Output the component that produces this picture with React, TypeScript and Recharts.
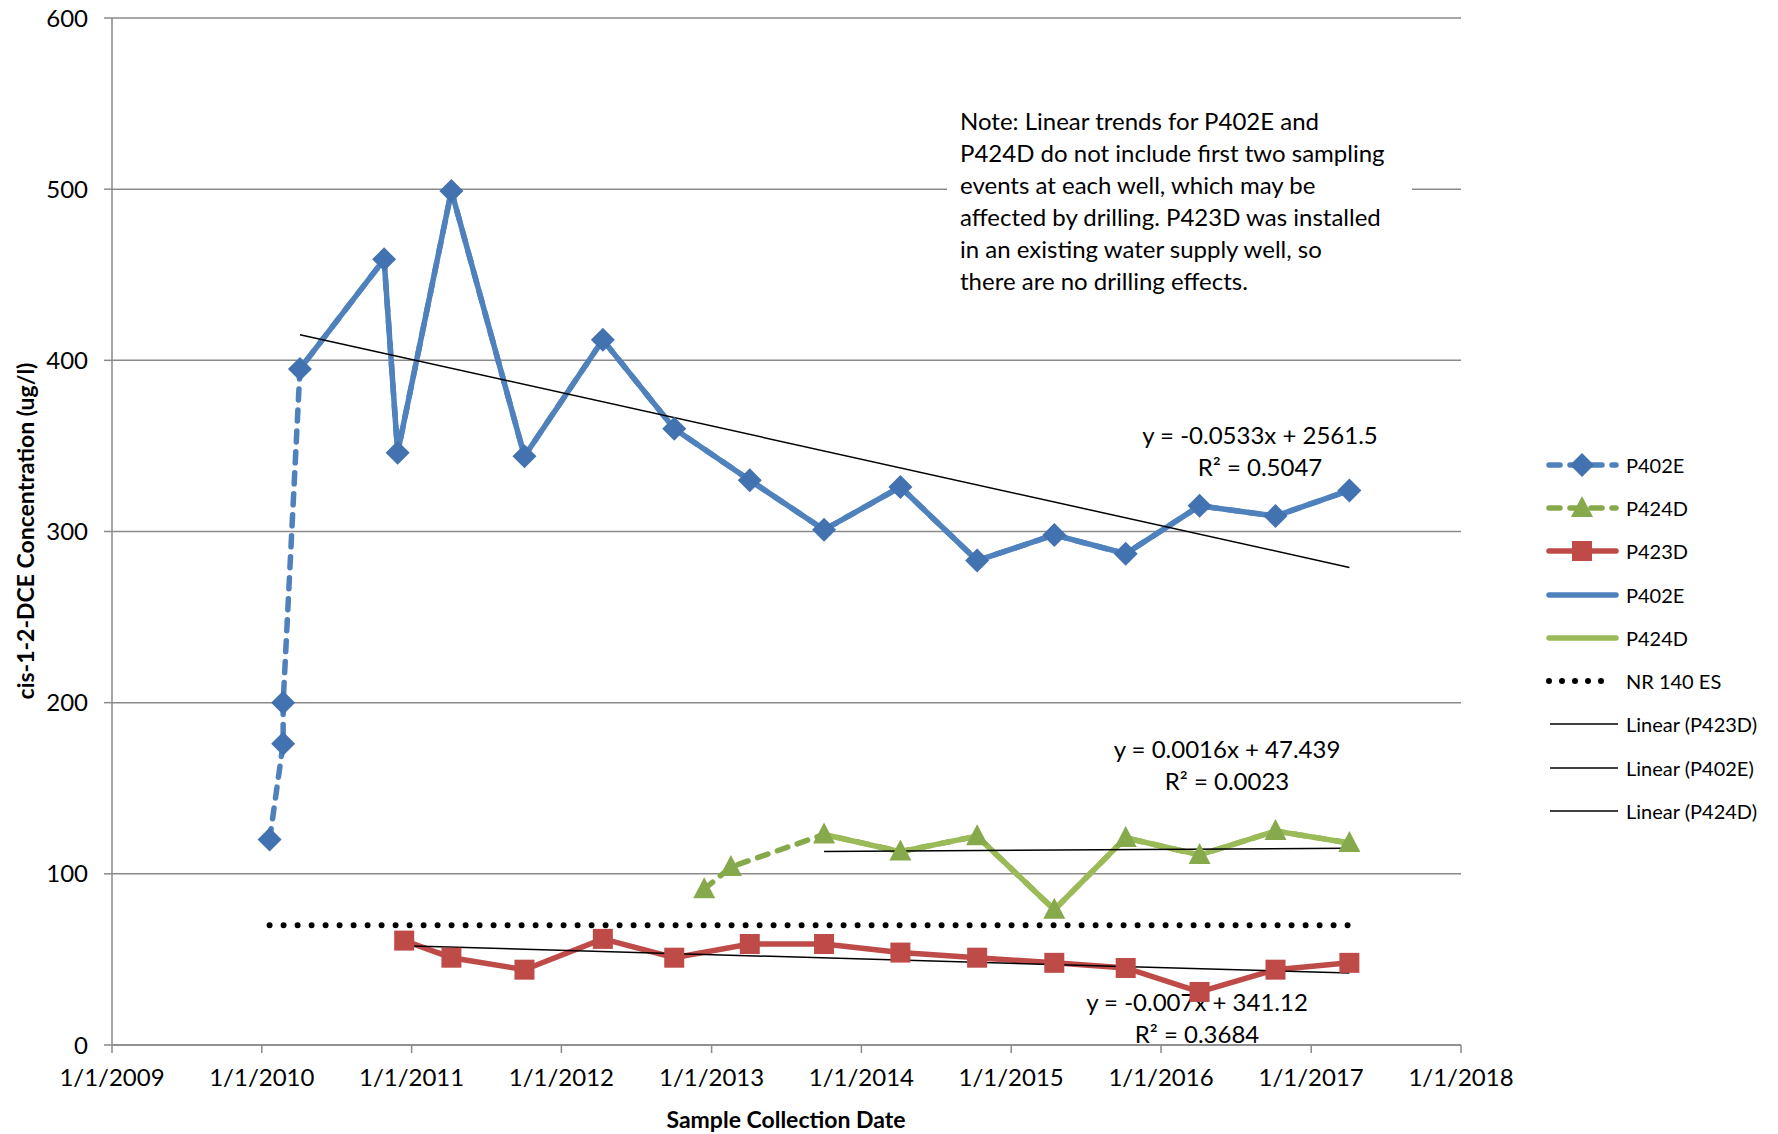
import { CartesianGrid, Customized, Legend, Line, LineChart, XAxis, YAxis } from "recharts";

const years = [2009, 2010, 2011, 2012, 2013, 2014, 2015, 2016, 2017, 2018];
const yTicks = [0, 100, 200, 300, 400, 500, 600];

const p402eDates = [
  "2010-01-20", "2010-02-22", "2010-02-22", "2010-04-04", "2010-10-26", "2010-11-28",
  "2011-04-08", "2011-10-03", "2012-04-11", "2012-10-02", "2013-04-04", "2013-10-02",
  "2014-04-06", "2014-10-10", "2015-04-16", "2015-10-07", "2016-04-04", "2016-10-06", "2017-04-04",
];
const p402eValues = [120, 176, 200, 395, 459, 346, 499, 344, 412, 360, 330, 301, 326, 283, 298, 287, 315, 309, 324];

const p424dDates = [
  "2012-12-14", "2013-02-17", "2013-10-02", "2014-04-06", "2014-10-10",
  "2015-04-16", "2015-10-07", "2016-04-04", "2016-10-06", "2017-04-04",
];
const p424dValues = [91, 104, 123, 113, 122, 79, 121, 111, 125, 118];

const p423dDates = [
  "2010-12-14", "2011-04-08", "2011-10-03", "2012-04-11", "2012-10-02", "2013-04-04", "2013-10-02",
  "2014-04-06", "2014-10-10", "2015-04-16", "2015-10-07", "2016-04-04", "2016-10-06", "2017-04-04",
];
const p423dValues = [61, 51, 44, 62, 51, 59, 59, 54, 51, 48, 45, 31, 44, 48];

const nr140Dates = ["2010-01-20", "2017-04-04"];
const nr140Values = [70, 70];

// trend line ends
const trendP402EDates = ["2010-04-04", "2017-04-04"];
const trendP402EValues = [415, 279];
const trendP424DDates = ["2013-10-02", "2017-04-04"];
const trendP424DValues = [113, 115];
const trendP423DDates = ["2010-12-14", "2017-04-04"];
const trendP423DValues = [58, 42];

const noteLines = [
  "Note: Linear trends for P402E and",
  "P424D do not include first two sampling",
  "events at each well, which may be",
  "affected by drilling. P423D was installed",
  "in an existing water supply well, so",
  "there are no drilling effects.",
];

const FONT = "Lato, 'Open Sans', sans-serif";
const BLUE = "#4F81BD";
const BLUE_MK = "#4272B0";
const GREEN = "#9BBB59";
const GREEN_DK = "#86A94B";
const RED = "#BE4B48";
const GRID = "#8A8A8A";
const LEGEND_W = 230;
const LW = 5.5;

const toMs = (d: string) => Date.parse(d + "T00:00:00Z");
const pts = (dates: string[], values: number[]) => dates.map((d, i) => ({ x: toMs(d), y: values[i] }));

const p402eAll = pts(p402eDates, p402eValues);
const p402eTrendSet = p402eAll.slice(3);
const p424dAll = pts(p424dDates, p424dValues);
const p424dTrendSet = p424dAll.slice(2);
const p423d = pts(p423dDates, p423dValues);
const nr140 = pts(nr140Dates, nr140Values);
const trendA = pts(trendP402EDates, trendP402EValues);
const trendB = pts(trendP424DDates, trendP424DValues);
const trendC = pts(trendP423DDates, trendP423DValues);

const yearTicks = years.map((y) => Date.UTC(y, 0, 1));

function Diamond({ cx, cy, fill }: { cx: number; cy: number; fill: string }) {
  const r = 12;
  return <path d={`M${cx},${cy - r}L${cx + r},${cy}L${cx},${cy + r}L${cx - r},${cy}Z`} fill={fill} />;
}
function Triangle({ cx, cy, fill }: { cx: number; cy: number; fill: string }) {
  return <path d={`M${cx},${cy - 12}L${cx + 11},${cy + 9}L${cx - 11},${cy + 9}Z`} fill={fill} />;
}
function Square({ cx, cy, fill }: { cx: number; cy: number; fill: string }) {
  return <rect x={cx - 10} y={cy - 10} width={20} height={20} fill={fill} />;
}

const legendItems = [
  { label: "P402E", kind: "dash", color: BLUE, marker: "diamond" },
  { label: "P424D", kind: "dash", color: GREEN_DK, marker: "triangle" },
  { label: "P423D", kind: "solid", color: RED, marker: "square" },
  { label: "P402E", kind: "solid", color: BLUE, marker: "" },
  { label: "P424D", kind: "solid", color: GREEN, marker: "" },
  { label: "NR 140 ES", kind: "dot", color: "#000", marker: "" },
  { label: "Linear (P423D)", kind: "thin", color: "#000", marker: "" },
  { label: "Linear (P402E)", kind: "thin", color: "#000", marker: "" },
  { label: "Linear (P424D)", kind: "thin", color: "#000", marker: "" },
];

function LegendBox() {
  return (
    <div style={{ fontFamily: FONT, fontSize: 20, color: "#000" }}>
      {legendItems.map((it, i) => (
        <div key={i} style={{ display: "flex", alignItems: "center", height: 43.3 }}>
          <svg width={80} height={24}>
            {it.kind === "dash" && (
              <line x1={3} y1={12} x2={70} y2={12} stroke={it.color} strokeWidth={LW} strokeDasharray="11 10" strokeLinecap="round" />
            )}
            {it.kind === "solid" && <line x1={3} y1={12} x2={70} y2={12} stroke={it.color} strokeWidth={LW} strokeLinecap="round" />}
            {it.kind === "dot" && (
              <line x1={3} y1={12} x2={68} y2={12} stroke="#000" strokeWidth={6} strokeDasharray="0 13" strokeLinecap="round" />
            )}
            {it.kind === "thin" && <line x1={4} y1={12} x2={72} y2={12} stroke="#000" strokeWidth={1.5} />}
            {it.marker === "diamond" && <Diamond cx={36} cy={12} fill={BLUE_MK} />}
            {it.marker === "triangle" && <Triangle cx={36} cy={12} fill={GREEN_DK} />}
            {it.marker === "square" && <Square cx={36} cy={12} fill={RED} />}
          </svg>
          <span>{it.label}</span>
        </div>
      ))}
    </div>
  );
}

function Annotations() {
  return (
    <g fontFamily={FONT} fill="#000">
      <rect x={947} y={96} width={465} height={204} fill="#fff" />
      {noteLines.map((t, i) => (
        <text key={i} x={960} y={120 + i * 32} fontSize={24} dominantBaseline="central">
          {t}
        </text>
      ))}
      <text x={1260} y={434} fontSize={24} textAnchor="middle" dominantBaseline="central">y = -0.0533x + 2561.5</text>
      <text x={1260} y={466} fontSize={24} textAnchor="middle" dominantBaseline="central">R² = 0.5047</text>
      <text x={1227} y={748} fontSize={24} textAnchor="middle" dominantBaseline="central">y = 0.0016x + 47.439</text>
      <text x={1227} y={780} fontSize={24} textAnchor="middle" dominantBaseline="central">R² = 0.0023</text>
      <text x={1197} y={1001} fontSize={24} textAnchor="middle" dominantBaseline="central">y = -0.007x + 341.12</text>
      <text x={1197} y={1033} fontSize={24} textAnchor="middle" dominantBaseline="central">R² = 0.3684</text>
      <text x={786} y={1119} fontSize={23} fontWeight="bold" textAnchor="middle" dominantBaseline="central">
        Sample Collection Date
      </text>
      <text
        x={25}
        y={531}
        fontSize={23}
        fontWeight="bold"
        textAnchor="middle"
        dominantBaseline="central"
        transform="rotate(-90 25 531)"
      >
        cis-1-2-DCE Concentration (ug/l)
      </text>
    </g>
  );
}

const tickStyle = { fontFamily: FONT, fontSize: 24, fill: "#000" };

export default function App() {
  return (
    <div style={{ position: "absolute", left: 0, top: 0, background: "#fff" }}>
      {/* the legend's width is added to the right margin by recharts, so subtract it here */}
      <LineChart width={1778} height={1134} margin={{ top: 18, right: 317 - LEGEND_W, bottom: 0, left: 0 }}>
        <CartesianGrid vertical={false} stroke={GRID} strokeWidth={1.5} />
        <XAxis
          dataKey="x"
          type="number"
          domain={[yearTicks[0], yearTicks[yearTicks.length - 1]]}
          ticks={yearTicks}
          interval={0}
          height={89}
          tickFormatter={(v: number) => `1/1/${new Date(v).getUTCFullYear()}`}
          tick={tickStyle}
          stroke={GRID}
          strokeWidth={1.5}
          tickSize={8}
          tickMargin={16}
          allowDataOverflow
        />
        <YAxis
          dataKey="y"
          type="number"
          domain={[0, 600]}
          ticks={yTicks}
          interval={0}
          width={112}
          tick={tickStyle}
          stroke={GRID}
          strokeWidth={1.5}
          tickSize={8}
          tickMargin={16}
        />
        <Line
          data={p402eAll}
          dataKey="y"
          name="P402E"
          stroke={BLUE}
          strokeWidth={LW}
          strokeDasharray="11 10"
          strokeLinecap="round"
          dot={(p: any) => <Diamond key={`a${p.index}`} cx={p.cx} cy={p.cy} fill={BLUE_MK} />}
          activeDot={false}
          isAnimationActive={false}
        />
        <Line
          data={p424dAll}
          dataKey="y"
          name="P424D"
          stroke={GREEN_DK}
          strokeWidth={LW}
          strokeDasharray="11 10"
          strokeLinecap="round"
          dot={(p: any) => <Triangle key={`b${p.index}`} cx={p.cx} cy={p.cy} fill={GREEN_DK} />}
          activeDot={false}
          isAnimationActive={false}
        />
        <Line
          data={p423d}
          dataKey="y"
          name="P423D"
          stroke={RED}
          strokeWidth={LW}
          dot={(p: any) => <Square key={`c${p.index}`} cx={p.cx} cy={p.cy} fill={RED} />}
          activeDot={false}
          isAnimationActive={false}
        />
        <Line data={p402eTrendSet} dataKey="y" name="P402E " stroke={BLUE} strokeWidth={LW} dot={false} activeDot={false} isAnimationActive={false} />
        <Line data={p424dTrendSet} dataKey="y" name="P424D " stroke={GREEN} strokeWidth={LW} dot={false} activeDot={false} isAnimationActive={false} />
        <Line
          data={nr140}
          dataKey="y"
          name="NR 140 ES"
          stroke="#000"
          strokeWidth={6}
          strokeDasharray="0 14"
          strokeLinecap="round"
          dot={false}
          activeDot={false}
          isAnimationActive={false}
        />
        <Line data={trendC} dataKey="y" name="Linear (P423D)" stroke="#000" strokeWidth={1.5} dot={false} activeDot={false} isAnimationActive={false} />
        <Line data={trendA} dataKey="y" name="Linear (P402E)" stroke="#000" strokeWidth={1.5} dot={false} activeDot={false} isAnimationActive={false} />
        <Line data={trendB} dataKey="y" name="Linear (P424D)" stroke="#000" strokeWidth={1.5} dot={false} activeDot={false} isAnimationActive={false} />
        <Customized component={Annotations} />
        <Legend
          layout="horizontal"
          verticalAlign="middle"
          align="right"
          content={() => <LegendBox />}
          wrapperStyle={{ left: 1546, top: 443, width: LEGEND_W, right: "auto", bottom: "auto" }}
        />
      </LineChart>
    </div>
  );
}
